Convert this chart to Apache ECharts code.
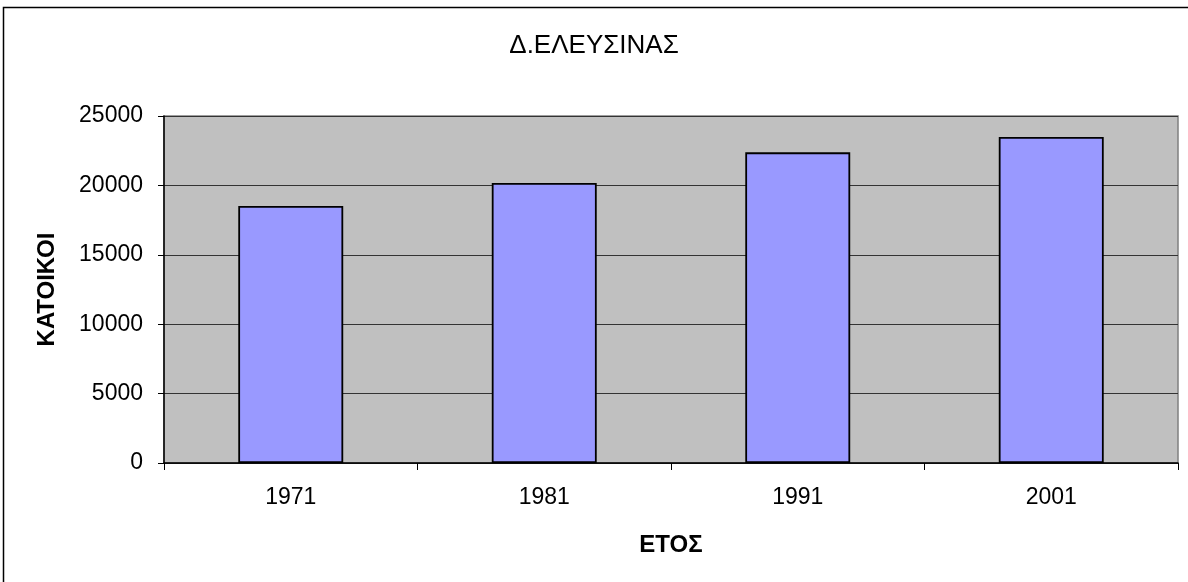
<!DOCTYPE html>
<html>
<head>
<meta charset="utf-8">
<script src="https://cdn.jsdelivr.net/npm/echarts@6/dist/echarts.min.js"></script>
<style>
  html, body { margin: 0; padding: 0; background: #fff; }
  #show { width: 1188px; height: 582px; }
</style>
</head>
<body>
<div id="show"></div>
<script>
// Δ.ΕΛΕΥΣΙΝΑΣ - κάτοικοι ανά απογραφή
var years = ['1971', '1981', '1991', '2001'];
var katoikoi = [18520, 20170, 22380, 23490];
var yTicks = [0, 5000, 10000, 15000, 20000, 25000];

var font = 'Liberation Sans, Arial, sans-serif';
var myChart = echarts.init(document.getElementById('show'));
var option = {
    backgroundColor: '#fff',
    animation: false,
    title: {
        text: 'Δ.ΕΛΕΥΣΙΝΑΣ',
        left: 'center',
        top: 28,
        textStyle: { fontFamily: font, fontSize: 26, fontWeight: 'normal', color: '#000' }
    },
    graphic: [{
        type: 'rect',
        shape: { x: 3.5, y: 7.5, width: 1200, height: 600 },
        style: { fill: 'none', stroke: '#000', lineWidth: 1.5 },
        silent: true
    }],
    grid: {
        left: 164,
        right: 10,
        top: 116,
        bottom: 119,
        show: true,
        backgroundColor: '#C0C0C0',
        borderColor: '#808080',
        borderWidth: 1.5
    },
    xAxis: {
        type: 'category',
        data: years,
        name: 'ΕΤΟΣ',
        nameLocation: 'middle',
        nameGap: 70,
        nameTextStyle: { fontFamily: font, fontSize: 24, fontWeight: 'bold', color: '#000' },
        axisLine: { lineStyle: { color: '#000', width: 1.5 } },
        axisTick: { show: true, length: 7, lineStyle: { color: '#000' } },
        axisLabel: { fontFamily: font, fontSize: 23, color: '#000', margin: 23 }
    },
    yAxis: {
        type: 'value',
        min: yTicks[0],
        max: yTicks[yTicks.length - 1],
        interval: yTicks[1] - yTicks[0],
        name: 'ΚΑΤΟΙΚΟΙ',
        nameLocation: 'middle',
        nameGap: 105,
        nameTextStyle: { fontFamily: font, fontSize: 24, fontWeight: 'bold', color: '#000' },
        axisLine: { show: true, lineStyle: { color: '#000', width: 1.5 } },
        axisTick: { show: true, length: 6, lineStyle: { color: '#000' } },
        axisLabel: {
            fontFamily: font, fontSize: 23, color: '#000', margin: 21,
            formatter: function (v) { return String(v); }
        },
        splitLine: { show: true, lineStyle: { color: '#333', width: 1.2 } }
    },
    series: [{
        name: 'ΚΑΤΟΙΚΟΙ',
        type: 'bar',
        data: katoikoi,
        barWidth: '41.4%',
        itemStyle: { color: '#9999FF', borderColor: '#000', borderWidth: 1.8 }
    }]
};
myChart.setOption(option);
</script>
</body>
</html>
